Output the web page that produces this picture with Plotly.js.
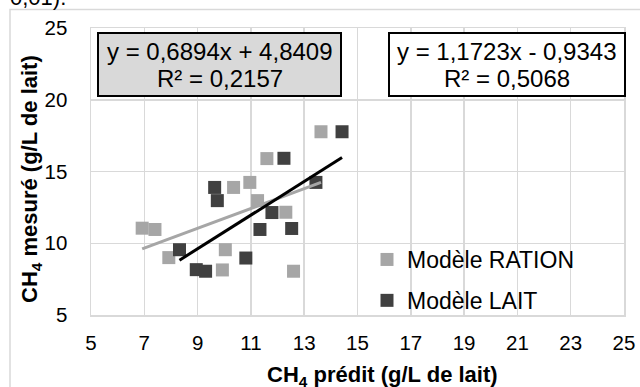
<!DOCTYPE html>
<html>
<head>
<meta charset="utf-8">
<script src="https://cdn.plot.ly/plotly-3.0.1.min.js"></script>
<style>html,body{margin:0;padding:0;background:#fff;}#chart{width:640px;height:387px;}</style>
</head>
<body>
<div id="chart"></div>
<script>
// Data
const rationX = [13.63, 11.60, 10.35, 10.96, 11.25, 12.31, 6.92, 7.40, 7.92, 10.04, 9.93, 12.60];
const rationY = [17.77, 15.90, 13.89, 14.24, 12.97, 12.16, 11.05, 10.96, 9.00, 9.55, 8.14, 8.05];
const laitX = [14.42, 12.24, 9.64, 9.74, 13.44, 11.79, 11.34, 12.53, 8.32, 10.81, 8.95, 9.30];
const laitY = [17.77, 15.92, 13.89, 12.97, 14.24, 12.14, 10.96, 11.03, 9.55, 8.97, 8.16, 8.05];
const rationFit = {slope: 0.6894, intercept: 4.8409, r2: 0.2157};
const laitFit = {slope: 1.1723, intercept: -0.9343, r2: 0.5068};
const seriesNames = ["Modèle RATION", "Modèle LAIT"];
const tickVals = [5, 7, 9, 11, 13, 15, 17, 19, 21, 23, 25];
const yTickVals = [5, 10, 15, 20, 25];
const eqRation = ["y = 0,6894x + 4,8409", "R² = 0,2157"];
const eqLait = ["y = 1,1723x - 0,9343", "R² = 0,5068"];

const FONT = "Liberation Sans, Arial, sans-serif";
const LIGHT = "#A6A6A6", DARK = "#404040";

function fitLine(xs, fit) {
  const x0 = Math.min(...xs), x1 = Math.max(...xs);
  return {x: [x0, x1], y: [fit.slope * x0 + fit.intercept, fit.slope * x1 + fit.intercept]};
}
const rl = fitLine(rationX, rationFit);
const ll = fitLine(laitX, laitFit);

const traces = [
  {x: rationX, y: rationY, type: "scatter", mode: "markers", name: seriesNames[0], legendgroup: "a",
   marker: {symbol: "square", size: 13, color: LIGHT}},
  {x: laitX, y: laitY, type: "scatter", mode: "markers", name: seriesNames[1], legendgroup: "b",
   marker: {symbol: "square", size: 13, color: DARK}},
  {x: rl.x, y: rl.y, type: "scatter", mode: "lines", showlegend: false, hoverinfo: "skip",
   line: {color: LIGHT, width: 3}},
  {x: ll.x, y: ll.y, type: "scatter", mode: "lines", showlegend: false, hoverinfo: "skip",
   line: {color: "#000000", width: 3}}
];

function toPx(px) { return (px - 91) / 533; }
function toPy(py) { return (315 - py) / 287; }

const layout = {
  width: 640, height: 387,
  margin: {l: 91, r: 16, t: 28, b: 72},
  paper_bgcolor: "#ffffff", plot_bgcolor: "#ffffff",
  font: {family: FONT, size: 20, color: "#000"},
  showlegend: true,
  legend: {x: toPx(367), y: toPy(280), xanchor: "left", yanchor: "middle",
           bgcolor: "rgba(0,0,0,0)", font: {family: FONT, size: 23, color: "#000"},
           tracegroupgap: 8, itemwidth: 30},
  xaxis: {range: [5, 25], tickvals: tickVals, ticktext: tickVals.map(String),
          showgrid: true, gridcolor: "#D9D9D9", gridwidth: 1.5,
          showline: true, linecolor: "#D9D9D9", linewidth: 1.5, mirror: true,
          zeroline: false, ticks: "outside", ticklen: 9, tickcolor: "rgba(0,0,0,0)",
          tickfont: {family: FONT, size: 20.5, color: "#000"}, fixedrange: true},
  yaxis: {range: [5, 25], tickvals: yTickVals, ticktext: yTickVals.map(String),
          showgrid: true, gridcolor: "#D9D9D9", gridwidth: 1.5,
          showline: true, linecolor: "#D9D9D9", linewidth: 1.5, mirror: true,
          zeroline: false, ticks: "outside", ticklen: 18, tickcolor: "rgba(0,0,0,0)",
          tickfont: {family: FONT, size: 20.5, color: "#000"}, fixedrange: true},
  shapes: [
    {type: "rect", xref: "paper", yref: "paper", x0: toPx(10), x1: 1.2, y0: -0.4, y1: toPy(9.5),
     line: {color: "#D9D9D9", width: 1.5}, fillcolor: "rgba(0,0,0,0)", layer: "below"},
    {type: "rect", xref: "paper", yref: "paper", x0: toPx(98), x1: toPx(341), y0: toPy(96), y1: toPy(33),
     line: {color: "#000", width: 2}, fillcolor: "#D9D9D9", layer: "above"},
    {type: "rect", xref: "paper", yref: "paper", x0: toPx(389), x1: toPx(625), y0: toPy(96), y1: toPy(33),
     line: {color: "#000", width: 2}, fillcolor: "#FFFFFF", layer: "above"}
  ],
  annotations: [
    {text: eqRation[0], xref: "paper", yref: "paper", x: toPx(219.5), y: toPy(52), showarrow: false,
     xanchor: "center", yanchor: "middle", font: {family: FONT, size: 24, color: "#000"}},
    {text: eqRation[1], xref: "paper", yref: "paper", x: toPx(219.5), y: toPy(78.5), showarrow: false,
     xanchor: "center", yanchor: "middle", font: {family: FONT, size: 24, color: "#000"}},
    {text: eqLait[0], xref: "paper", yref: "paper", x: toPx(507), y: toPy(52), showarrow: false,
     xanchor: "center", yanchor: "middle", font: {family: FONT, size: 24, color: "#000"}},
    {text: eqLait[1], xref: "paper", yref: "paper", x: toPx(507), y: toPy(78.5), showarrow: false,
     xanchor: "center", yanchor: "middle", font: {family: FONT, size: 24, color: "#000"}},
    {text: "<b>CH<sub>4</sub> prédit (g/L de lait)</b>", xref: "paper", yref: "paper",
     x: toPx(382), y: toPy(376), showarrow: false, xanchor: "center", yanchor: "middle",
     font: {family: FONT, size: 22, color: "#000"}},
    {text: "<b>CH<sub>4</sub> mesuré (g/L de lait)</b>", xref: "paper", yref: "paper",
     x: toPx(31), y: toPy(179), showarrow: false, xanchor: "center", yanchor: "middle", textangle: -90,
     font: {family: FONT, size: 22, color: "#000"}},
    {text: "0,01).", xref: "paper", yref: "paper", x: toPx(8), y: toPy(-3), showarrow: false,
     xanchor: "left", yanchor: "middle", font: {family: FONT, size: 22, color: "#000"}}
  ]
};

Plotly.newPlot("chart", traces, layout, {staticPlot: true, displayModeBar: false});
</script>
</body>
</html>
